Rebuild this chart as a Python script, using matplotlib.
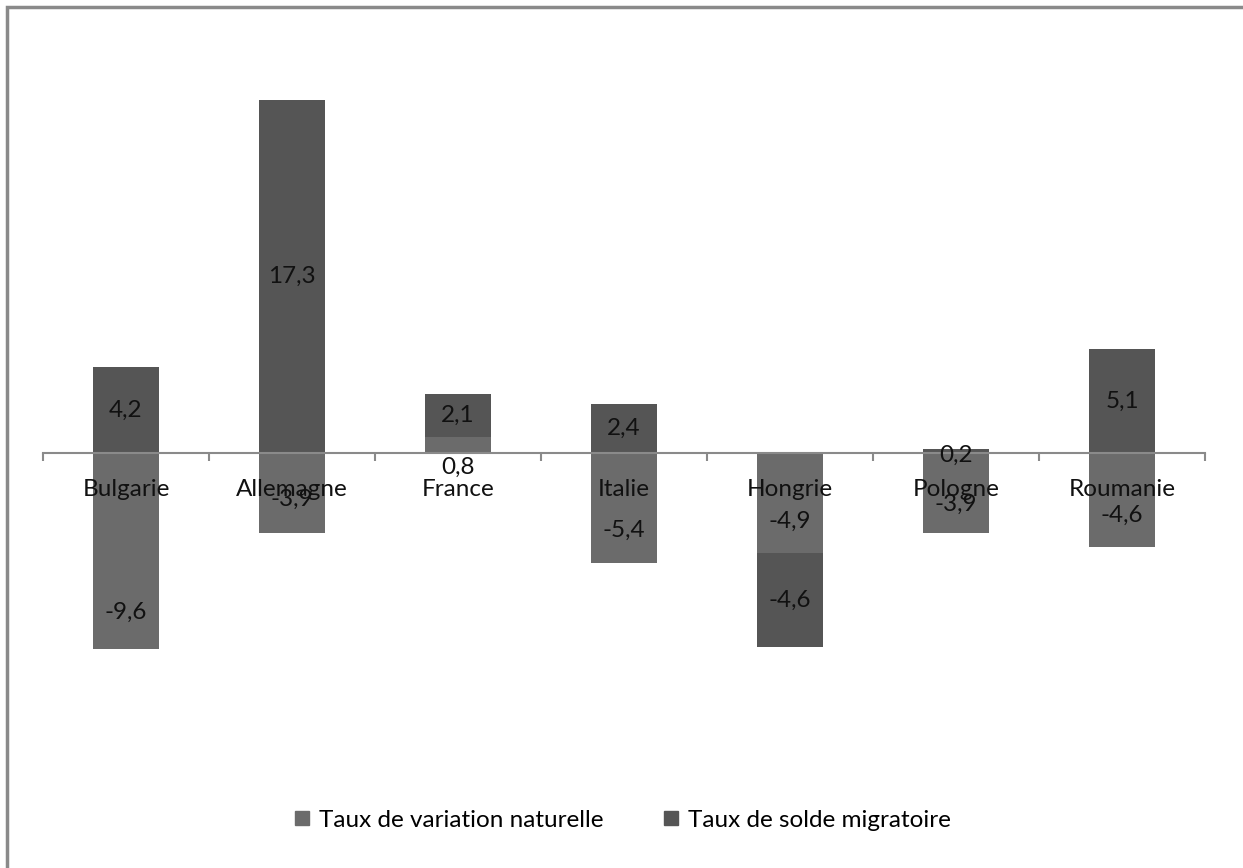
import matplotlib
matplotlib.use("Agg")
import matplotlib.pyplot as plt
from matplotlib.patches import Rectangle
from matplotlib.lines import Line2D

plt.rcParams['font.family'] = ['Lato', 'DejaVu Sans']

# taux pour 1000 habitants
pays = ["Bulgarie", "Allemagne", "France", "Italie", "Hongrie", "Pologne", "Roumanie"]
variation_naturelle = [-9.6, -3.9, 0.8, -5.4, -4.9, -3.9, -4.6]
solde_migratoire = [4.2, 17.3, 2.1, 2.4, -4.6, 0.2, 5.1]

col_nat = "#6b6b6b"
col_mig = "#555555"

# decalage vertical des etiquettes (pixels) pour garder la lisibilite
decal_nat = [-61, -7, -23, -22, -18, -12, -15]
decal_mig = [0, 0, 0, 0, 0, -4, 0]

W, H = 1243, 868
fig = plt.figure(figsize=(W / 100, H / 100), dpi=100)
fig.patch.set_facecolor("white")

# cadre du graphique
fig.add_artist(Rectangle((7 / W, -0.05), 1.1, 1 - 7 / H + 0.05, transform=fig.transFigure,
                         fill=False, edgecolor="#8a8a8a", linewidth=2.5))

ymin, ymax = -10, 18
pix = 20.4
bas = 1 - (453 + (-ymin) * pix) / H
haut = 1 - (453 - ymax * pix) / H
ax = fig.add_axes([43 / W, bas, 1162 / W, haut - bas])
ax.set_xlim(-0.5, len(pays) - 0.5)
ax.set_ylim(ymin, ymax)

x = list(range(len(pays)))
larg = 0.4

# empilement : positifs au-dessus de zero, negatifs en dessous
bas_mig = []
for n, m in zip(variation_naturelle, solde_migratoire):
    if (n >= 0) == (m >= 0):
        bas_mig.append(n)
    else:
        bas_mig.append(0)

ax.bar(x, variation_naturelle, width=larg, color=col_nat, zorder=2)
ax.bar(x, solde_migratoire, width=larg, bottom=bas_mig, color=col_mig, zorder=2)

for spine in ax.spines.values():
    spine.set_visible(False)
ax.set_yticks([])
ax.set_xticks([i - 0.5 for i in range(len(pays) + 1)])
ax.set_xticklabels([])
ax.spines['bottom'].set_visible(True)
ax.spines['bottom'].set_position(('data', 0))
ax.spines['bottom'].set_color("#8a8a8a")
ax.spines['bottom'].set_linewidth(1.5)
ax.spines['bottom'].set_zorder(3)
ax.tick_params(axis='x', direction='out', length=6, width=1.5, color="#8a8a8a")

fs = 17.5
for i, nom in enumerate(pays):
    ax.annotate(nom, (i, 0), xytext=(0, -37), textcoords='offset pixels',
                ha='center', va='center', fontsize=fs, color="#111111", zorder=4)

for i in x:
    n = variation_naturelle[i]
    m = solde_migratoire[i]
    ax.annotate(f"{n:.1f}".replace(".", ","), (i, n / 2), xytext=(0, decal_nat[i]),
                textcoords='offset pixels', ha='center', va='center',
                fontsize=fs, color="#111111", zorder=4)
    ax.annotate(f"{m:.1f}".replace(".", ","), (i, bas_mig[i] + m / 2), xytext=(0, decal_mig[i]),
                textcoords='offset pixels', ha='center', va='center',
                fontsize=fs, color="#111111", zorder=4)

poignees = [Line2D([], [], marker='s', linestyle='none', markersize=10, color=col_nat),
            Line2D([], [], marker='s', linestyle='none', markersize=10, color=col_mig)]
fig.legend(poignees, ["Taux de variation naturelle", "Taux de solde migratoire"],
           loc='center', bbox_to_anchor=(0.5, 1 - 820 / H), ncol=2, frameon=False,
           fontsize=fs, handletextpad=0.3, columnspacing=2.4, handlelength=0.8)

fig.savefig("out.png", dpi=100)
